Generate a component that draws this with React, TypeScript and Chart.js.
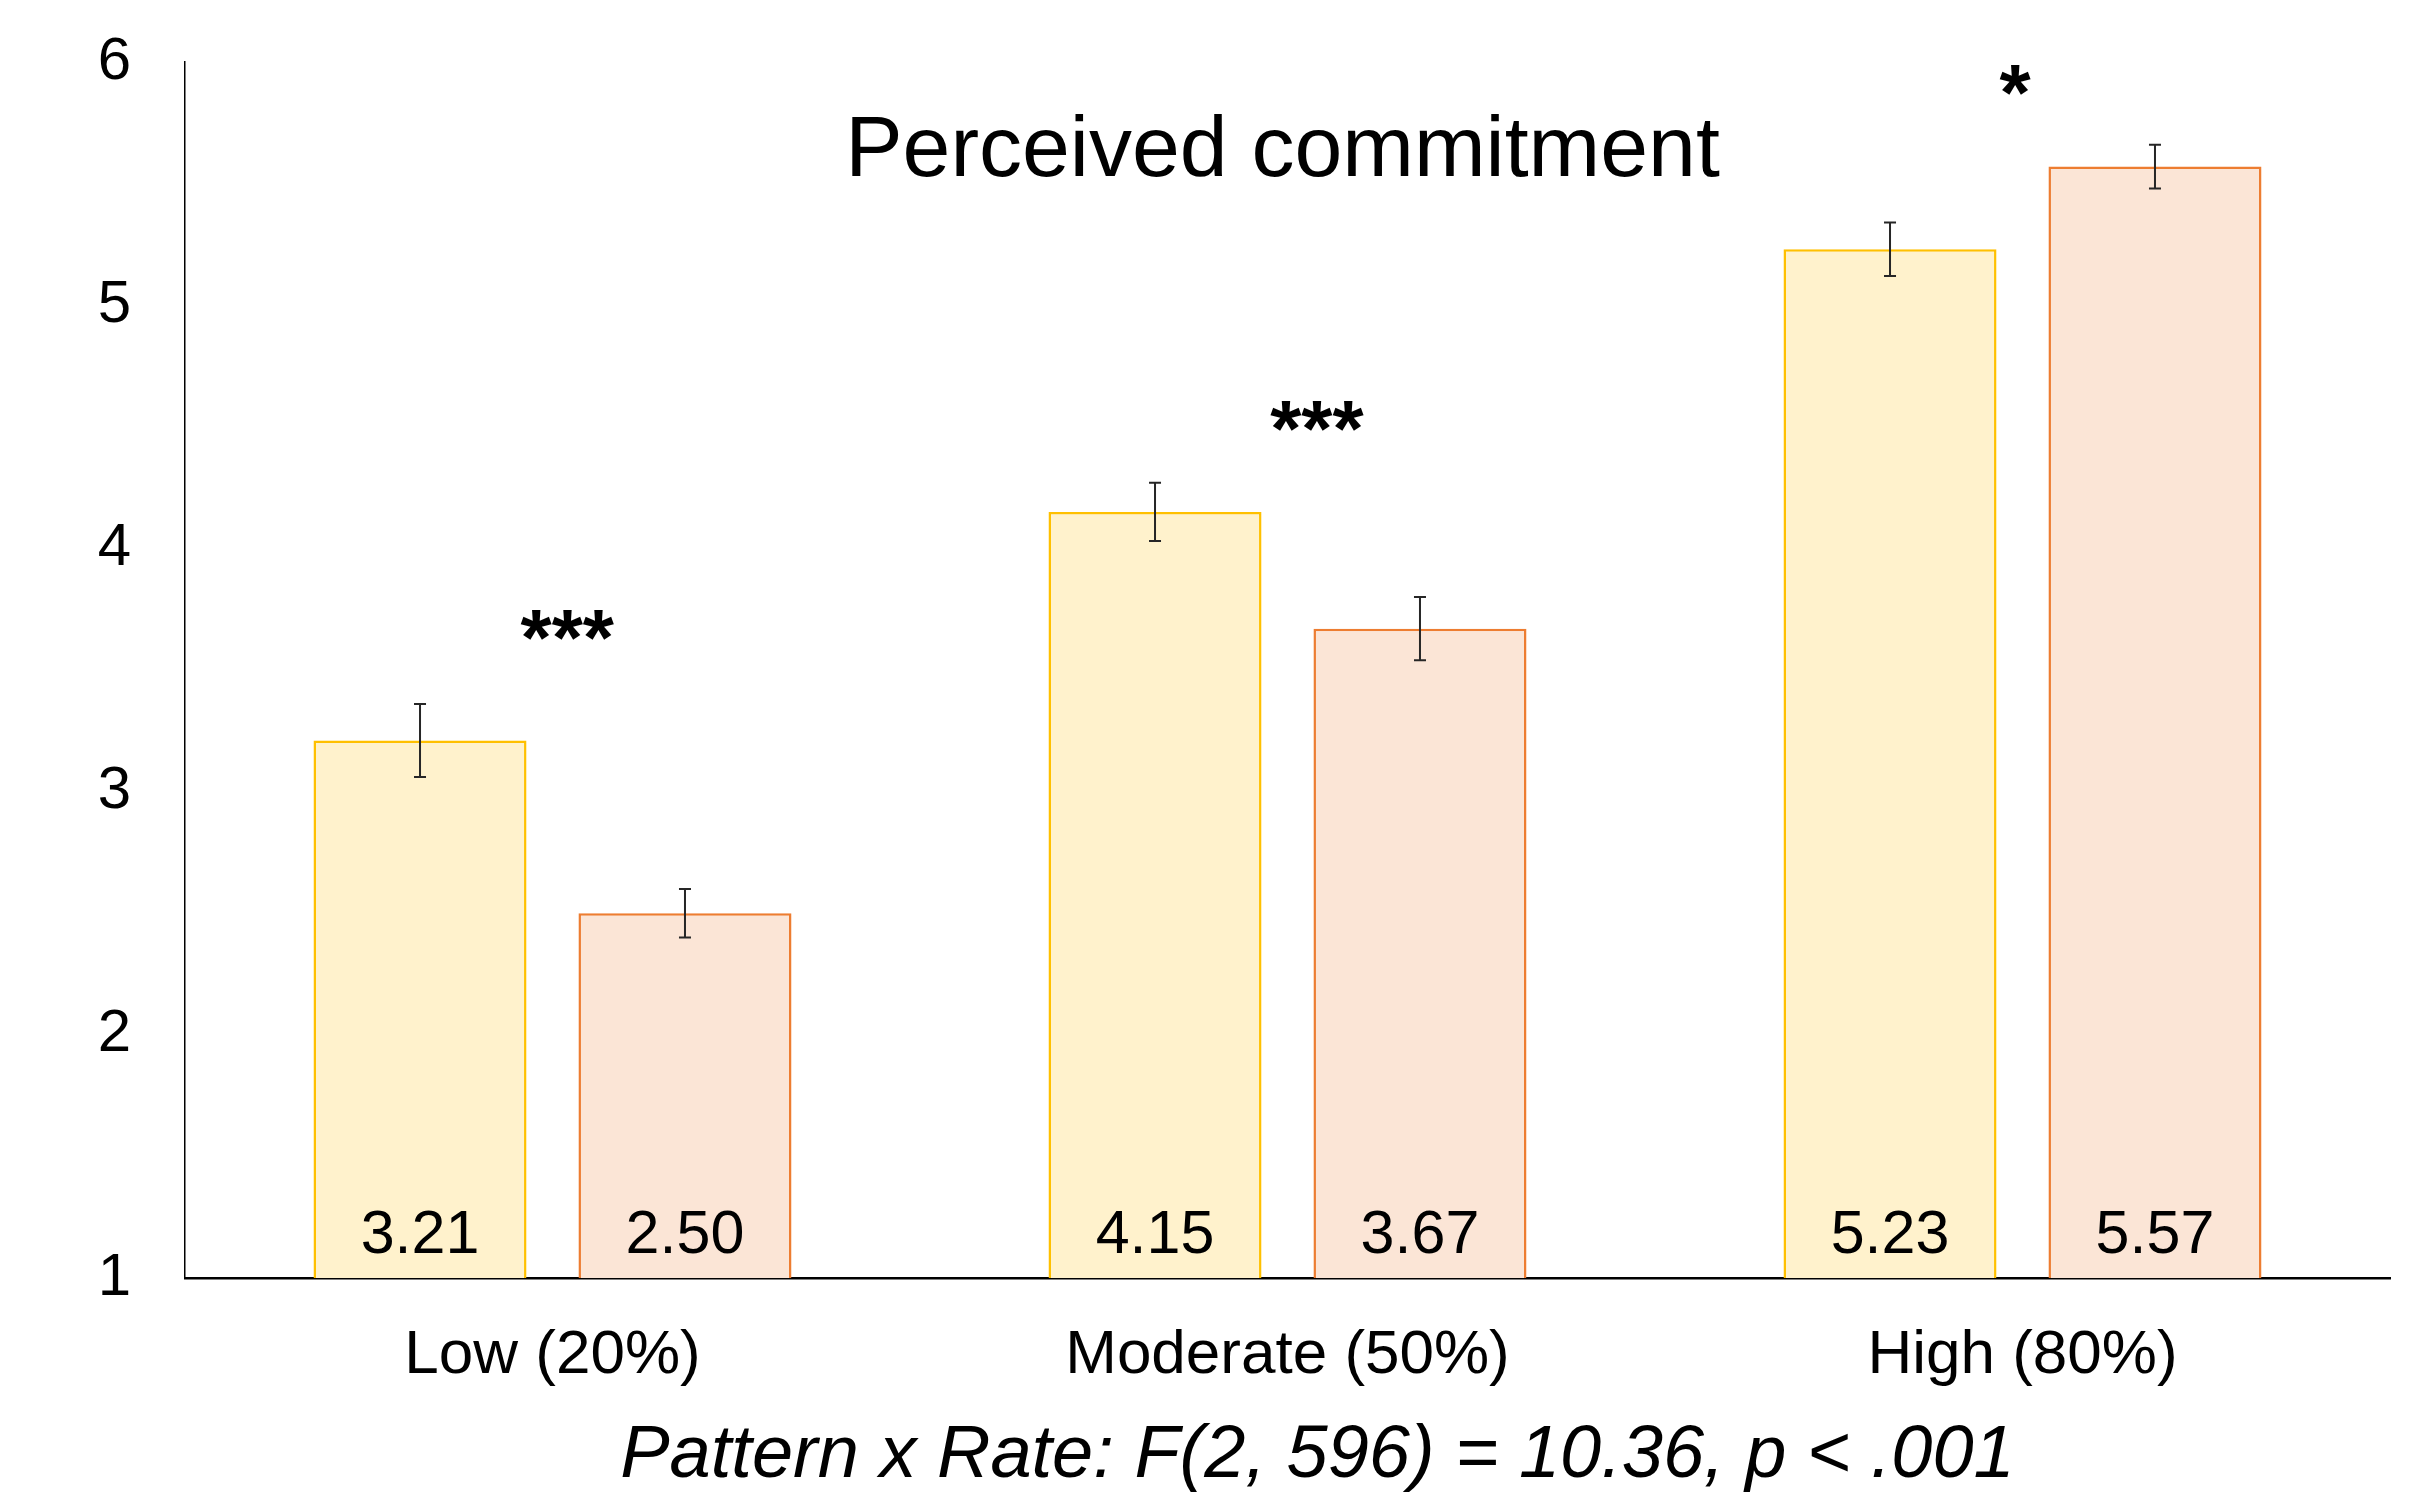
import React, { useEffect, useRef } from 'react';
import { Chart, registerables } from 'chart.js';

Chart.register(...registerables);

const categories = ['Low (20%)', 'Moderate (50%)', 'High (80%)'];
const seriesNames = ['Pattern A', 'Pattern B'];
const series1Values = [3.21, 4.15, 5.23];
const series2Values = [2.5, 3.67, 5.57];
const series1Err = [0.15, 0.12, 0.11];
const series2Err = [0.1, 0.13, 0.09];
const sigLabels = ['***', '***', '*'];
const sigX = [0.02, 1.04, 1.99];
const sigY = [3.52, 4.38, 5.76];
const yMin = 1;
const yMax = 6;
const yStep = 1;
const chartTitle = 'Perceived commitment';
const statText = 'Pattern x Rate: F(2, 596) = 10.36, p < .001';

const FONT = '"Liberation Sans", Arial, sans-serif';

const overlayPlugin = {
  id: 'overlay',
  afterDatasetsDraw(chart: any) {
    const ctx = chart.ctx;
    const xs = chart.scales.x;
    const ys = chart.scales.y;
    const area = chart.chartArea;
    ctx.save();
    const allVals = [series1Values, series2Values];
    const allErr = [series1Err, series2Err];
    allVals.forEach((vals, di) => {
      const meta = chart.getDatasetMeta(di);
      meta.data.forEach((bar: any, i: number) => {
        const x = bar.x;
        const yTop = ys.getPixelForValue(vals[i] + allErr[di][i]);
        const yBot = ys.getPixelForValue(vals[i] - allErr[di][i]);
        ctx.strokeStyle = '#262626';
        ctx.lineWidth = 2;
        ctx.beginPath();
        ctx.moveTo(x, yTop);
        ctx.lineTo(x, yBot);
        ctx.moveTo(x - 6, yTop);
        ctx.lineTo(x + 6, yTop);
        ctx.moveTo(x - 6, yBot);
        ctx.lineTo(x + 6, yBot);
        ctx.stroke();
        ctx.fillStyle = '#000';
        ctx.font = `61px ${FONT}`;
        ctx.textAlign = 'center';
        ctx.textBaseline = 'alphabetic';
        ctx.fillText(vals[i].toFixed(2), x, area.bottom - 25);
      });
    });
    // significance stars
    ctx.fillStyle = '#000';
    ctx.font = `bold 80px ${FONT}`;
    ctx.textAlign = 'center';
    ctx.textBaseline = 'alphabetic';
    sigLabels.forEach((s, i) => {
      ctx.fillText(s, xs.getPixelForValue(sigX[i]), ys.getPixelForValue(sigY[i]));
    });
    // title inside plot
    ctx.font = `86px ${FONT}`;
    ctx.fillText(chartTitle, (area.left + area.right) / 2 - 5, area.top + 114);
    // stats line
    ctx.font = `italic 74px ${FONT}`;
    ctx.fillText(statText, (area.left + area.right) / 2 + 30, area.bottom + 199);
    ctx.restore();
  },
};

export default function App() {
  const ref = useRef<HTMLCanvasElement | null>(null);
  useEffect(() => {
    if (!ref.current) return;
    const chart = new Chart(ref.current, {
      type: 'bar',
      data: {
        labels: categories,
        datasets: [
          {
            label: seriesNames[0],
            data: series1Values,
            backgroundColor: '#FFF2CC',
            borderColor: '#FFC000',
            borderWidth: 2.5,
          },
          {
            label: seriesNames[1],
            data: series2Values,
            backgroundColor: '#FBE5D6',
            borderColor: '#ED7D31',
            borderWidth: 2.5,
          },
        ],
      },
      options: {
        responsive: false,
        animation: false,
        devicePixelRatio: 1,
        layout: { padding: { left: 0, top: 62, right: 30, bottom: 0 } },
        datasets: {
          bar: { categoryPercentage: 0.721, barPercentage: 0.804 },
        },
        plugins: {
          legend: { display: false },
          tooltip: { enabled: false },
          title: { display: false },
        },
        scales: {
          x: {
            grid: { display: false, drawTicks: true, tickLength: 44 },
            border: { display: true, color: '#000', width: 2.5 },
            ticks: {
              color: '#000',
              font: { family: FONT, size: 62, lineHeight: 1 },
              padding: 3,
              maxRotation: 0,
              autoSkip: false,
            },
            afterFit(scale: any) {
              scale.height = 215;
            },
          },
          y: {
            min: yMin,
            max: yMax,
            grid: { display: false, drawTicks: true, tickLength: 51 },
            border: { display: true, color: '#000', width: 1.5 },
            ticks: {
              stepSize: yStep,
              color: '#000',
              font: { family: FONT, size: 60 },
              padding: 3,
            },
            afterFit(scale: any) {
              scale.width = 185;
            },
          },
        },
      },
      plugins: [overlayPlugin],
    });
    return () => chart.destroy();
  }, []);
  return (
    <div style={{ position: 'absolute', left: 0, top: 0, width: 2420, height: 1493, background: '#fff' }}>
      <canvas ref={ref} width={2420} height={1493} style={{ display: 'block' }} />
    </div>
  );
}
